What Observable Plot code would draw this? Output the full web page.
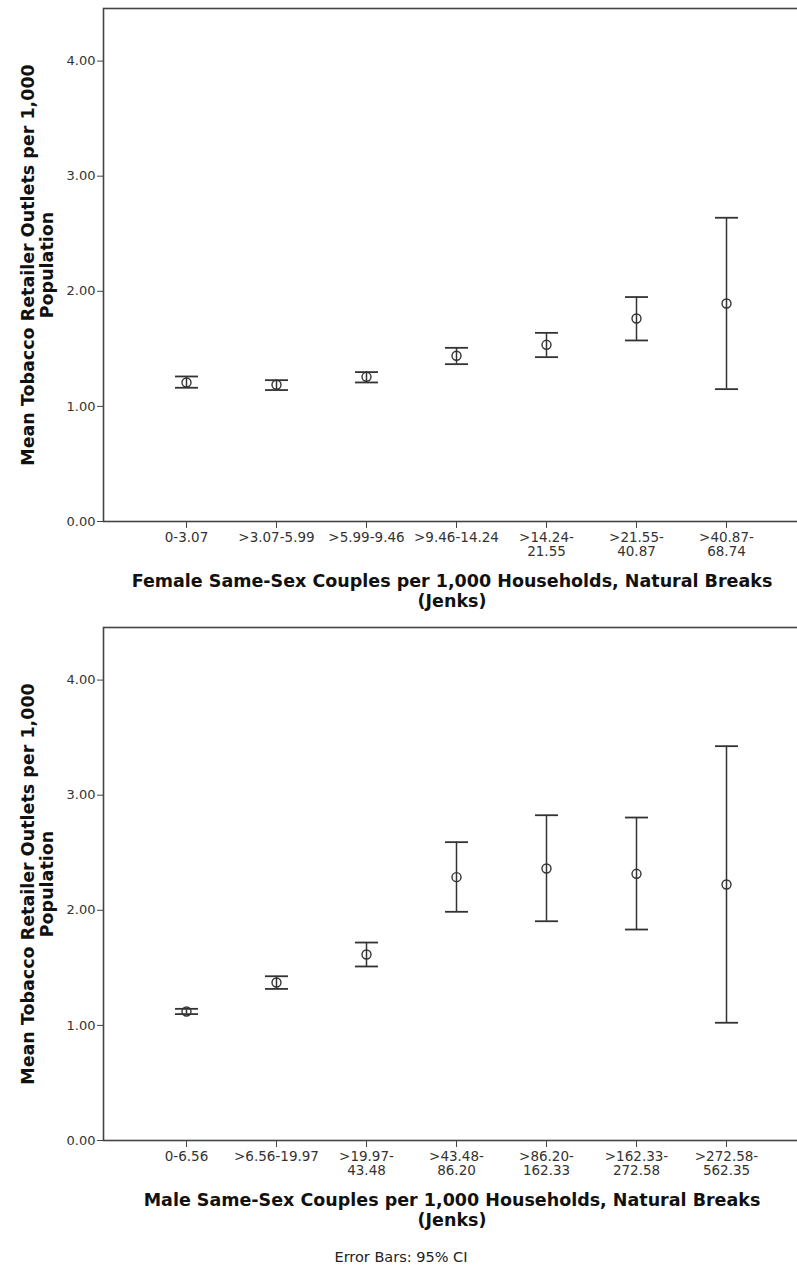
<!DOCTYPE html>
<html>
<head>
<meta charset="utf-8">
<script src="https://cdn.jsdelivr.net/npm/d3@7"></script>
<script src="https://cdn.jsdelivr.net/npm/@observablehq/plot@0.6"></script>
<style>
  body { margin: 0; background: #fff; font-family: "DejaVu Sans", sans-serif; }
  #caption { width: 797px; box-sizing: border-box; padding-left: 5px; margin-top: 10px; text-align: center; font-size: 14.5px; line-height: 18px; color: #222; }
  svg { display: block; }
</style>
</head>
<body>
<div id="chart"></div>
<div id="caption">Error Bars: 95% CI</div>
<script>
// ---- data ----
const yTitle = "Mean Tobacco Retailer Outlets per 1,000\nPopulation";
const yTicks = [0, 1, 2, 3, 4];

const femaleTitle = "Female Same-Sex Couples per 1,000 Households, Natural Breaks\n(Jenks)";
const femaleCats = ["0-3.07", ">3.07-5.99", ">5.99-9.46", ">9.46-14.24", ">14.24-21.55", ">21.55-40.87", ">40.87-68.74"];
const femaleTickLabels = ["0-3.07", ">3.07-5.99", ">5.99-9.46", ">9.46-14.24", ">14.24-\n21.55", ">21.55-\n40.87", ">40.87-\n68.74"];
const femaleMean = [1.208, 1.188, 1.257, 1.440, 1.535, 1.764, 1.894];
const femaleLow  = [1.162, 1.142, 1.208, 1.367, 1.428, 1.573, 1.150];
const femaleHigh = [1.260, 1.228, 1.298, 1.509, 1.639, 1.950, 2.639];

const maleTitle = "Male Same-Sex Couples per 1,000 Households, Natural Breaks\n(Jenks)";
const maleCats = ["0-6.56", ">6.56-19.97", ">19.97-43.48", ">43.48-86.20", ">86.20-162.33", ">162.33-272.58", ">272.58-562.35"];
const maleTickLabels = ["0-6.56", ">6.56-19.97", ">19.97-\n43.48", ">43.48-\n86.20", ">86.20-\n162.33", ">162.33-\n272.58", ">272.58-\n562.35"];
const maleMean = [1.121, 1.373, 1.616, 2.288, 2.363, 2.317, 2.224];
const maleLow  = [1.098, 1.317, 1.512, 1.987, 1.905, 1.833, 1.023];
const maleHigh = [1.144, 1.427, 1.720, 2.592, 2.826, 2.806, 3.426];

// horizontal cap symbol for error bars (half-width = r)
const capSymbol = {
  draw(context, size) {
    const h = Math.sqrt(size / Math.PI);
    context.moveTo(-h, 0);
    context.lineTo(h, 0);
  }
};

function makeChart(cats, tickLabels, mean, low, high, xTitle) {
  const data = cats.map((c, i) => ({cat: c, mean: mean[i], low: low[i], high: high[i]}));
  const labelMap = new Map(cats.map((c, i) => [c, tickLabels[i]]));
  return Plot.plot({
    width: 797,
    height: 619,
    marginTop: 8,
    marginBottom: 98,
    marginLeft: 103,
    marginRight: -3,
    style: {fontFamily: '"DejaVu Sans", sans-serif', color: "#333", background: "#fff", overflow: "hidden"},
    x: {type: "point", domain: cats, range: [183.3, 727.7], padding: 0},
    y: {domain: [0, 4.457]},
    marks: [
      Plot.frame({stroke: "#444", strokeWidth: 1.6}),
      Plot.axisY({ticks: yTicks, tickFormat: d3.format(".2f"), tickSize: 6, tickPadding: 2, fontSize: 13, label: null, stroke: "#444", fill: "#333"}),
      Plot.axisX({tickFormat: d => labelMap.get(d), tickSize: 7, tickPadding: 4, fontSize: 13.5, lineHeight: 1.02, label: null, stroke: "#444", fill: "#333"}),
      Plot.text([yTitle], {text: d => d, frameAnchor: "left", dx: -66, rotate: -90, textAnchor: "middle", lineAnchor: "middle", fontSize: 17.5, fontWeight: "bold", lineHeight: 1.1, fill: "#111"}),
      Plot.text([xTitle], {text: d => d, frameAnchor: "bottom", dy: 69, textAnchor: "middle", lineAnchor: "middle", fontSize: 17.5, fontWeight: "bold", lineHeight: 1.15, fill: "#111"}),
      Plot.ruleX(data, {x: "cat", y1: "low", y2: "high", stroke: "#333", strokeWidth: 1.5}),
      Plot.dot(data, {x: "cat", y: "low", symbol: capSymbol, r: 11.5, stroke: "#333", strokeWidth: 1.8, fill: "none"}),
      Plot.dot(data, {x: "cat", y: "high", symbol: capSymbol, r: 11.5, stroke: "#333", strokeWidth: 1.8, fill: "none"}),
      Plot.dot(data, {x: "cat", y: "mean", r: 4.5, stroke: "#333", strokeWidth: 1.4, fill: "none"})
    ]
  });
}

const chart = document.getElementById("chart");
chart.appendChild(makeChart(femaleCats, femaleTickLabels, femaleMean, femaleLow, femaleHigh, femaleTitle));
chart.appendChild(makeChart(maleCats, maleTickLabels, maleMean, maleLow, maleHigh, maleTitle));
</script>
</body>
</html>
